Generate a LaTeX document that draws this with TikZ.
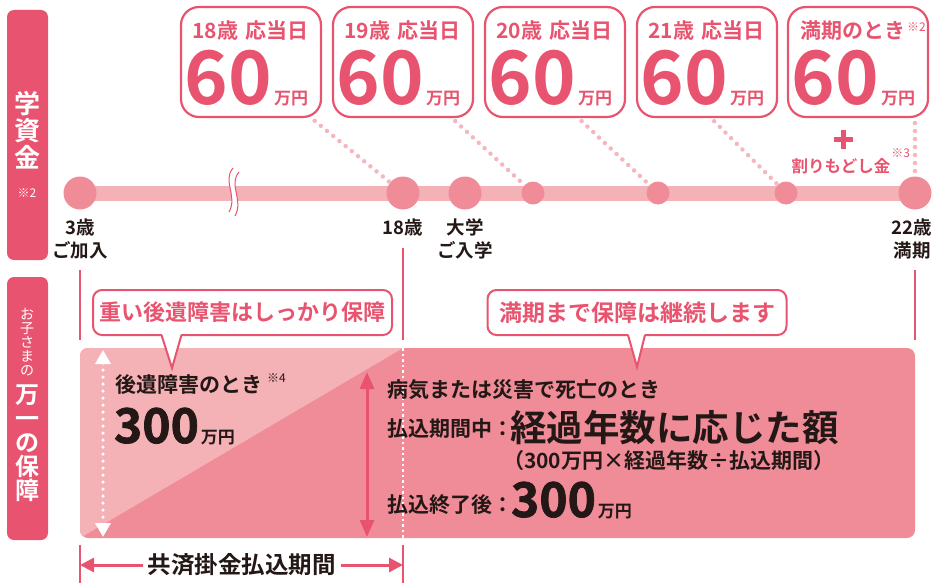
\documentclass[tikz,border=0pt]{standalone}
\usepackage{fontspec}
\setmainfont{Noto Sans CJK JP}[BoldFont={Noto Sans CJK JP Bold}]
\newfontfamily\numfont{Noto Sans CJK JP Bold}[FakeBold=1.5]
\usetikzlibrary{arrows.meta,backgrounds,positioning}
\definecolor{deeppink}{HTML}{E8546F}
\definecolor{midpink}{HTML}{F08C98}
\definecolor{palepink}{HTML}{F4B1B6}
\definecolor{dotpink}{HTML}{F5B7BD}
\definecolor{inkdark}{HTML}{231815}
\newcommand{\fsz}[2]{\fontsize{#1}{#2}\selectfont}

\begin{document}
\begin{tikzpicture}[x=1pt,y=-1pt,
    every node/.style={inner sep=0pt, outer sep=0pt},
    sidebar/.style={fill=deeppink, rounded corners=7pt},
    paybox/.style={draw=deeppink, line width=2.2pt, fill=white, rounded corners=18pt,
      minimum width=140pt, minimum height=110pt},
    agetxt/.style={text=deeppink, font=\bfseries\fsz{21}{21}},
    bignum/.style={text=deeppink, font=\bfseries\fsz{74}{74}},
    amtnum/.style={text=inkdark, font=\numfont\fsz{48}{48}},
    yentxt/.style={font=\bfseries\fsz{17}{17}},
    notetxt/.style={font=\fsz{12}{12}},
    steplbl/.style={text=inkdark, font=\bfseries\fsz{18.5}{18.5}},
    bodytxt/.style={text=inkdark, font=\bfseries\fsz{21}{21}},
    dotlink/.style={draw=dotpink, line width=4.5pt, line cap=round, dash pattern=on 0pt off 8pt, shorten <=6pt},
    guide/.style={draw=deeppink, line width=1.6pt},
    callout/.style={draw=deeppink, line width=2pt, fill=white, rounded corners=9pt, text=deeppink,
      font=\bfseries\fsz{22}{22}, minimum height=45pt},
    spantip/.tip={Triangle[width=14pt,length=14pt]},
  ]
  \useasboundingbox (0,0) rectangle (933,583);

  % side bars
  \path[sidebar] (7,10) rectangle (48,260);
  \path[sidebar] (7,277) rectangle (48,540);
  \node[text=white, font=\bfseries\fsz{26}{27}, align=center] (gaku) at (27,130) {学\\資\\金};
  \node[text=white, notetxt] at (27,193) {※2};
  \node[text=white, font=\fsz{14}{14}, align=center] (okosama) at (27,342) {お\\子\\さ\\ま\\の};
  \node[text=white, font=\bfseries\fsz{24}{24}, align=center] (manichi) at (27,443) {万\\一\\の\\保\\障};

  % payment boxes
  \foreach \cx/\age [count=\i] in {251/18, 403/19, 555/20, 707/21} {
    \node[paybox] (b\i) at (\cx,62) {};
    \node[agetxt, anchor=base east] (a\i) at (\cx-13,39) {\age 歳};
    \node[agetxt, anchor=base west] at (\cx-6,39) {応当日};
    \node[bignum, anchor=base east] (n\i) at (\cx+21,104) {60};
    \node[yentxt, text=deeppink, anchor=base west] at ([xshift=2pt]n\i.base east) {万円};
  }
  \node[paybox] (b5) at (858,62) {};
  \node[agetxt, anchor=base west] (t5) at (800,39) {満期のとき};
  \node[notetxt, text=deeppink, anchor=base west] at ([xshift=2pt,yshift=7pt]t5.base east) {※2};
  \node[bignum, anchor=base east] (n5) at (879,104) {60};
  \node[yentxt, text=deeppink, anchor=base west] at ([xshift=2pt]n5.base east) {万円};

  \draw[deeppink, line width=5pt] (843,130) -- (843,149) (833.5,139.5) -- (852.5,139.5);
  \node[text=deeppink, font=\bfseries\fsz{16.5}{16.5}, anchor=base] (refund) at (841,172) {割りもどし金};
  \node[notetxt, text=deeppink, anchor=base west] at ([xshift=1pt,yshift=15pt]refund.base east) {※3};

  % time line
  \begin{scope}[every node/.style={circle, fill=midpink, inner sep=0pt}]
    \node[minimum size=33pt] (c3)   at (80,193)  {};
    \node[minimum size=33pt] (c18)  at (403,193) {};
    \node[minimum size=33pt] (cuni) at (465,193) {};
    \node[minimum size=23pt] (c19)  at (533,193) {};
    \node[minimum size=23pt] (c20)  at (658,193) {};
    \node[minimum size=23pt] (c21)  at (786,193) {};
    \node[minimum size=33pt] (c22)  at (915,193) {};
  \end{scope}
  \begin{scope}[on background layer]
    \draw[palepink, line width=15pt] (c3.center) -- (c22.center);
  \end{scope}

  \fill[white] (233,168) .. controls (222,181) and (238,196) .. (229,212)
    -- (235,216) .. controls (244,200) and (228,185) .. (239,172) -- cycle;
  \draw[deeppink, line width=1pt] (233,168) .. controls (222,181) and (238,196) .. (229,212);
  \draw[deeppink, line width=1pt] (239,172) .. controls (228,185) and (244,200) .. (235,216);

  \draw[dotlink] (b1.-43) -- (c18);
  \draw[dotlink] (b2.-49) -- (c19);
  \draw[dotlink] (b3.-68) -- (c20);
  \draw[dotlink] (b4.-87) -- (c21);
  \draw[dotlink] (b5.-44) -- (c22);

  \begin{scope}[every node/.style={steplbl, anchor=base}]
    \node (l3a)  at (80,234)  {3歳};
    \node (l3b)  at (80,257)  {ご加入};
    \node (l18)  at (403,234) {18歳};
    \node (luna) at (465,234) {大学};
    \node (lunb) at (465,257) {ご入学};
    \node (l22a) at (912,234) {22歳};
    \node (l22b) at (912,257) {満期};
  \end{scope}

  % protection box
  \node[fill=midpink, rounded corners=8pt, minimum width=835pt, minimum height=190pt] (prot) at (497.5,443) {};
  \begin{scope}
    \clip[rounded corners=8pt] (prot.north west) rectangle (prot.south east);
    \fill[palepink] (prot.north west) -- (l18 |- prot.north) -- (prot.south west) -- cycle;
  \end{scope}
  \draw[white, line width=2.5pt, dash pattern=on 2.5pt off 3pt] (l18 |- prot.north) -- (l18 |- prot.south);

  \draw[guide, shorten <=8pt, shorten >=8pt] (l3b.south) -- (prot.north west);
  \draw[guide, shorten <=9pt, shorten >=8pt] (l18.south) -- (l18 |- prot.north);
  \draw[guide, shorten <=8pt, shorten >=8pt] (prot.north east |- l22b.south) -- (prot.north east);

  \coordinate (wtop) at (103,350);
  \coordinate (wbot) at (103,537);
  \draw[white, line width=3.5pt, line cap=round, dash pattern=on 0pt off 7pt, {Triangle[width=15pt,length=14pt]}-{Triangle[width=15pt,length=14pt]}] (wtop) -- (wbot);
  \coordinate (ptop) at (367,372);
  \coordinate (pbot) at (367,537);
  \draw[deeppink, line width=3pt, {Triangle[width=14pt,length=17pt]}-{Triangle[width=14pt,length=17pt]}] (ptop) -- (pbot);

  \node[bodytxt, anchor=base west] (inj) at (115,392) {後遺障害のとき};
  \node[notetxt, text=inkdark, anchor=base west] at ([xshift=5pt,yshift=10pt]inj.base east) {※4};
  \node[amtnum, anchor=base west] (amt1) at (114,443) {300};
  \node[yentxt, text=inkdark, anchor=base west] at ([xshift=2pt]amt1.base east) {万円};

  \node[bodytxt, anchor=base west] (die) at (387,397) {病気または災害で死亡のとき};
  \node[bodytxt, anchor=base west] (during) at (387,436) {払込期間中：};
  \node[text=inkdark, font=\bfseries\fsz{36.5}{36.5}, anchor=base west] (prop) at (510,441) {経過年数に応じた額};
  \node[text=inkdark, font=\bfseries\fsz{21}{21}, anchor=base west] (formula) at (503,468) {（300万円×経過年数÷払込期間）};
  \node[bodytxt, anchor=base west] (after) at (387,512) {払込終了後：};
  \node[amtnum, anchor=base west] (amt2) at (511,517) {300};
  \node[yentxt, text=inkdark, anchor=base west] at ([xshift=2pt]amt2.base east) {万円};

  % callouts
  \node[callout, minimum width=299pt] (co1) at (242.5,312.5) {重い後遺障害はしっかり保障};
  \node[callout, minimum width=299pt, font=\bfseries\fsz{23}{23}] (co2) at (637,312.5) {満期まで保障は継続します};
  \coordinate (t1) at (172,368);
  \coordinate (t2) at (637,367);
  \fill[white] ([xshift=-81pt,yshift=2pt]co1.south) -- (t1) -- ([xshift=-61pt,yshift=2pt]co1.south) -- cycle;
  \draw[deeppink, line width=2pt] ([xshift=-81pt]co1.south) -- (t1) -- ([xshift=-61pt]co1.south);
  \fill[white] ([xshift=-9pt,yshift=2pt]co2.south) -- (t2) -- ([xshift=8pt,yshift=2pt]co2.south) -- cycle;
  \draw[deeppink, line width=2pt] ([xshift=-9pt]co2.south) -- (t2) -- ([xshift=8pt]co2.south);

  % payment period
  \coordinate (sw) at (80,583);
  \coordinate (se) at (403,583);
  \draw[guide, shorten <=7pt] (prot.south west) -- (sw);
  \draw[guide, shorten <=7pt] (l18 |- prot.south) -- (se);
  \coordinate (pw) at (80,565);
  \coordinate (pe) at (403,565);
  \draw[deeppink, line width=3pt, spantip-spantip] (pw) -- node[fill=white, inner xsep=5pt, inner ysep=2pt, text=inkdark, font=\bfseries\fsz{23.5}{23.5}] (period) {共済掛金払込期間} (pe);
\end{tikzpicture}
\end{document}
